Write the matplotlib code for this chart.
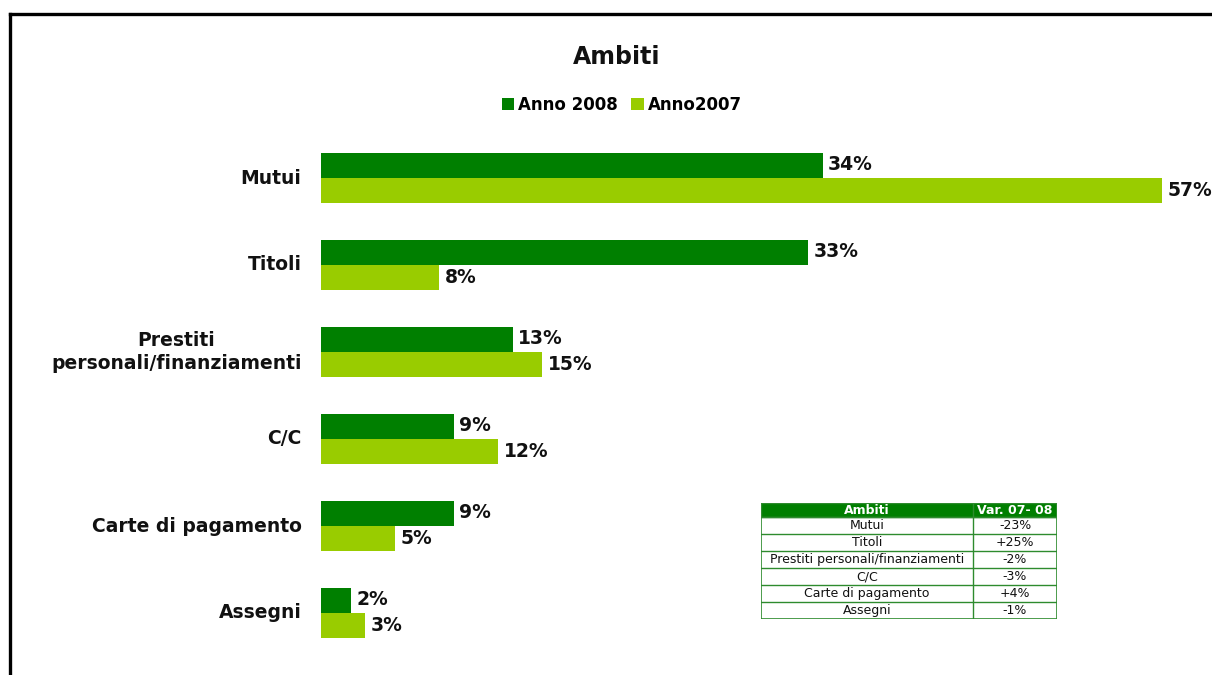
import matplotlib
matplotlib.use("Agg")
import matplotlib.pyplot as plt
from matplotlib.patches import Rectangle
from matplotlib.lines import Line2D

plt.rcParams['font.family'] = ['DejaVu Sans']

categories = ["Mutui", "Titoli", "Prestiti\npersonali/finanziamenti", "C/C",
              "Carte di pagamento", "Assegni"]
anno_2008 = [34, 33, 13, 9, 9, 2]
anno_2007 = [57, 8, 15, 12, 5, 3]

table_header = ["Ambiti", "Var. 07- 08"]
table_cats = ["Mutui", "Titoli", "Prestiti personali/finanziamenti", "C/C",
              "Carte di pagamento", "Assegni"]
table_var = ["-23%", "+25%", "-2%", "-3%", "+4%", "-1%"]

DARK = "#007F00"
LIGHT = "#99CC00"
INK = "#111111"

W, H = 1212, 675
fig = plt.figure(figsize=(W / 100, H / 100), dpi=100)
fig.patch.set_facecolor("white")

def fx(px):
    return px / W

def fy(py):
    return 1 - py / H

# main bar axes (pixel layout converted to figure fractions)
ax_left, ax_right, ax_top, ax_bottom = 321, 1200, 134.5, 656.5
ax = fig.add_axes([fx(ax_left), fy(ax_bottom), fx(ax_right - ax_left), (ax_bottom - ax_top) / H])
ax.set_xlim(0, (ax_right - ax_left) / 14.75)
ax.set_ylim(len(categories) - 0.5, -0.5)
ax.axis("off")

bh = 25 / 87
ys = list(range(len(categories)))
ax.barh([y - bh / 2 for y in ys], anno_2008, height=bh, color=DARK, label="Anno 2008")
ax.barh([y + bh / 2 for y in ys], anno_2007, height=bh, color=LIGHT, label="Anno2007")

for y, v in zip(ys, anno_2008):
    ax.annotate(f"{v}%", (v, y - bh / 2), xytext=(4, 1), textcoords="offset points",
                va="center", ha="left", fontsize=13.5, fontweight="bold", color=INK)
for y, v in zip(ys, anno_2007):
    ax.annotate(f"{v}%", (v, y + bh / 2), xytext=(4, 0), textcoords="offset points",
                va="center", ha="left", fontsize=13.5, fontweight="bold", color=INK)

for y, c in zip(ys, categories):
    ax.annotate(c, (0, y), xytext=(-14, 0), textcoords="offset points",
                va="center", ha="right", multialignment="center",
                fontsize=13.5, fontweight="bold", color=INK, linespacing=1.3)

# title and legend
fig.text(fx(617), fy(57), "Ambiti", ha="center", va="center", fontsize=17,
         fontweight="bold", color=INK)
fig.legend(loc="center", bbox_to_anchor=(fx(622), fy(105)), ncol=2, frameon=False,
           handlelength=0.75, handleheight=0.75, handletextpad=0.25,
           columnspacing=0.8, prop={"weight": "bold", "size": 12})

# variation table
tx0, tx1, tsplit = 761, 1057, 973
ty0, th, ty1 = 503, 517, 619
tab = fig.add_axes([fx(tx0), fy(ty1), fx(tx1 - tx0), (ty1 - ty0) / H])
tab.set_xlim(tx0, tx1)
tab.set_ylim(ty1, ty0)
tab.axis("off")
rh = (ty1 - th) / len(table_cats)
GRID = "#2E8B2E"
tab.add_patch(Rectangle((tx0, ty0), tx1 - tx0, th - ty0, facecolor=DARK, edgecolor=GRID, lw=1))
tab.text((tx0 + tsplit) / 2, (ty0 + th) / 2, table_header[0], ha="center", va="center",
         color="white", fontsize=9, fontweight="bold")
tab.text((tsplit + tx1) / 2, (ty0 + th) / 2, table_header[1], ha="center", va="center",
         color="white", fontsize=9, fontweight="bold")
for i, (c, v) in enumerate(zip(table_cats, table_var)):
    yc = th + rh * (i + 0.5)
    tab.text((tx0 + tsplit) / 2, yc, c, ha="center", va="center", fontsize=9, color=INK)
    tab.text((tsplit + tx1) / 2, yc, v, ha="center", va="center", fontsize=9, color=INK)
for i in range(len(table_cats)):
    tab.add_line(Line2D([tx0, tx1], [th + rh * i] * 2, color=GRID, lw=1))
tab.add_line(Line2D([tsplit, tsplit], [ty0, ty1], color=GRID, lw=1))
tab.add_patch(Rectangle((tx0, ty0), tx1 - tx0, ty1 - ty0, fill=False, edgecolor=GRID, lw=1.2))

# outer frame
fig.add_artist(Line2D([fx(10), fx(10)], [fy(13.7), 0], color="black", lw=2.4,
                      solid_capstyle="projecting", transform=fig.transFigure))
fig.add_artist(Line2D([fx(10), 1], [fy(13.7), fy(13.7)], color="black", lw=2.4,
                      solid_capstyle="projecting", transform=fig.transFigure))

fig.savefig("out.png", dpi=100, facecolor="white")
